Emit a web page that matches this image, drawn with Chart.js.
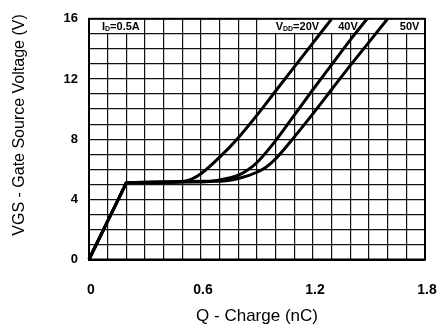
<!DOCTYPE html>
<html>
<head>
<meta charset="utf-8">
<script src="https://cdn.jsdelivr.net/npm/chart.js@4/dist/chart.umd.min.js"></script>
<style>
html,body{margin:0;padding:0;background:#fff;}
#wrap{width:445px;height:331px;}
</style>
</head>
<body>
<div id="wrap"><canvas id="c" width="445" height="331"></canvas></div>
<script>
// Gate charge (Q, nC) and gate-source voltage (V)
const q20 = [0, 0.1, 0.19, 0.2, 0.4, 0.5, 0.55, 0.6, 0.7, 0.8, 0.9, 1.0, 1.1, 1.2, 1.3];
const v20 = [0, 2.55, 4.85, 5.1, 5.12, 5.18, 5.35, 5.7, 6.8, 8.1, 9.6, 11.2, 12.8, 14.4, 16];
const q40 = [0, 0.1, 0.19, 0.2, 0.6, 0.7, 0.8, 0.85, 0.9, 1.0, 1.1, 1.2, 1.3, 1.4, 1.49];
const v40 = [0, 2.55, 4.85, 5.1, 5.15, 5.28, 5.6, 5.95, 6.45, 7.9, 9.6, 11.3, 12.95, 14.6, 16];
const q50 = [0, 0.1, 0.19, 0.2, 0.7, 0.8, 0.9, 0.95, 1.0, 1.1, 1.2, 1.3, 1.4, 1.5, 1.6];
const v50 = [0, 2.55, 4.85, 5.1, 5.2, 5.38, 5.8, 6.15, 6.7, 8.15, 9.7, 11.3, 12.9, 14.45, 16];
const seriesNames = ['VDD=20V', '40V', '50V'];
const xTickLabels = ['0', '0.6', '1.2', '1.8'];
const yTickLabels = ['0', '4', '8', '12', '16'];
const xTitle = 'Q - Charge (nC)';
const yTitle = 'VGS - Gate Source Voltage (V)';
const conditionLabel = ['I', 'D', '=0.5A'];

const FONT = "'Liberation Sans', Arial, sans-serif";
const zip = (xs, ys) => xs.map((x, i) => ({x: x, y: ys[i]}));

const mkSet = (label, xs, ys) => ({
  label: label, data: zip(xs, ys), borderColor: '#000', borderWidth: 3,
  pointRadius: 0, fill: false, cubicInterpolationMode: 'monotone', clip: false
});

const annot = {
  id: 'annot',
  beforeDatasetsDraw(chart) {
    const ctx = chart.ctx, xs = chart.scales.x, ys = chart.scales.y;
    const yT = ys.getPixelForValue(16), yR = ys.getPixelForValue(15);
    ctx.save();
    ctx.fillStyle = '#fff';
    let a = xs.getPixelForValue(0), b = xs.getPixelForValue(0.3);
    ctx.fillRect(a + 2, yT + 1, b - a - 3, yR - yT - 2);
    a = xs.getPixelForValue(0.9); b = xs.getPixelForValue(1.8);
    ctx.fillRect(a + 1, yT + 1, b - a - 2, yR - yT - 2);
    ctx.fillStyle = '#000';
    ctx.textBaseline = 'alphabetic';
    const base = yR - 4;
    const big = 'bold 11px ' + FONT, small = 'bold 7px ' + FONT;
    let x = xs.getPixelForValue(0) + 13;
    ctx.font = big; ctx.fillText(conditionLabel[0], x, base); x += ctx.measureText(conditionLabel[0]).width;
    ctx.font = small; ctx.fillText(conditionLabel[1], x, base + 1); x += ctx.measureText(conditionLabel[1]).width;
    ctx.font = big; ctx.fillText(conditionLabel[2], x, base);
    x = xs.getPixelForValue(1.0);
    ctx.font = big; ctx.fillText('V', x, base); x += ctx.measureText('V').width;
    ctx.font = small; ctx.fillText('DD', x, base + 1); x += ctx.measureText('DD').width;
    ctx.font = big; ctx.fillText('=20V', x, base);
    ctx.fillText(seriesNames[1], xs.getPixelForValue(1.335), base);
    ctx.fillText(seriesNames[2], xs.getPixelForValue(1.665), base);
    ctx.restore();
  },
  afterDraw(chart) {
    const ctx = chart.ctx;
    ctx.save();
    ctx.translate(20, 125);
    ctx.rotate(-Math.PI / 2);
    ctx.font = '16px ' + FONT;
    ctx.fillStyle = '#000';
    ctx.textAlign = 'center';
    ctx.textBaseline = 'middle';
    ctx.fillText(yTitle, 0, 0);
    ctx.restore();
  }
};

new Chart(document.getElementById('c'), {
  type: 'line',
  data: { datasets: [mkSet(seriesNames[0], q20, v20), mkSet(seriesNames[1], q40, v40), mkSet(seriesNames[2], q50, v50)] },
  options: {
    responsive: false, animation: false, devicePixelRatio: 1,
    layout: { padding: { top: 15, right: 20, left: 0, bottom: 0 } },
    plugins: { legend: { display: false }, tooltip: { enabled: false } },
    scales: {
      x: {
        type: 'linear', min: 0, max: 1.8,
        afterFit: s => { s.height = 71.5; s.paddingLeft = 0; s.paddingRight = 0; },
        grid: { color: '#111', lineWidth: 1.2, drawTicks: false },
        border: { color: '#000', width: 2 },
        ticks: {
          stepSize: 0.1, autoSkip: false, maxRotation: 0, padding: 22, labelOffset: 2, color: '#000',
          font: { family: FONT, size: 14, weight: 'bold' },
          callback: v => { const k = Math.round(v * 10); return k % 6 === 0 ? xTickLabels[k / 6] : ''; }
        },
        title: { display: true, text: xTitle, color: '#000', font: { family: FONT, size: 17 }, padding: { top: 0, bottom: 4 } }
      },
      y: {
        type: 'linear', min: 0, max: 16,
        afterFit: s => { s.width = 89; },
        grid: { color: '#111', lineWidth: 1.2, drawTicks: false },
        border: { color: '#000', width: 2 },
        ticks: {
          stepSize: 1, autoSkip: false, padding: 11, color: '#000',
          font: { family: FONT, size: 13, weight: 'bold' },
          callback: v => (Math.round(v) % 4 === 0 ? yTickLabels[Math.round(v) / 4] : '')
        }
      }
    }
  },
  plugins: [annot, {
    id: 'frame',
    afterDatasetsDraw(chart) {
      const {ctx, chartArea: a} = chart;
      ctx.save(); ctx.strokeStyle = '#000'; ctx.lineWidth = 2;
      ctx.strokeRect(a.left, a.top, a.right - a.left, a.bottom - a.top);
      ctx.restore();
    }
  }]
});
</script>
</body>
</html>
